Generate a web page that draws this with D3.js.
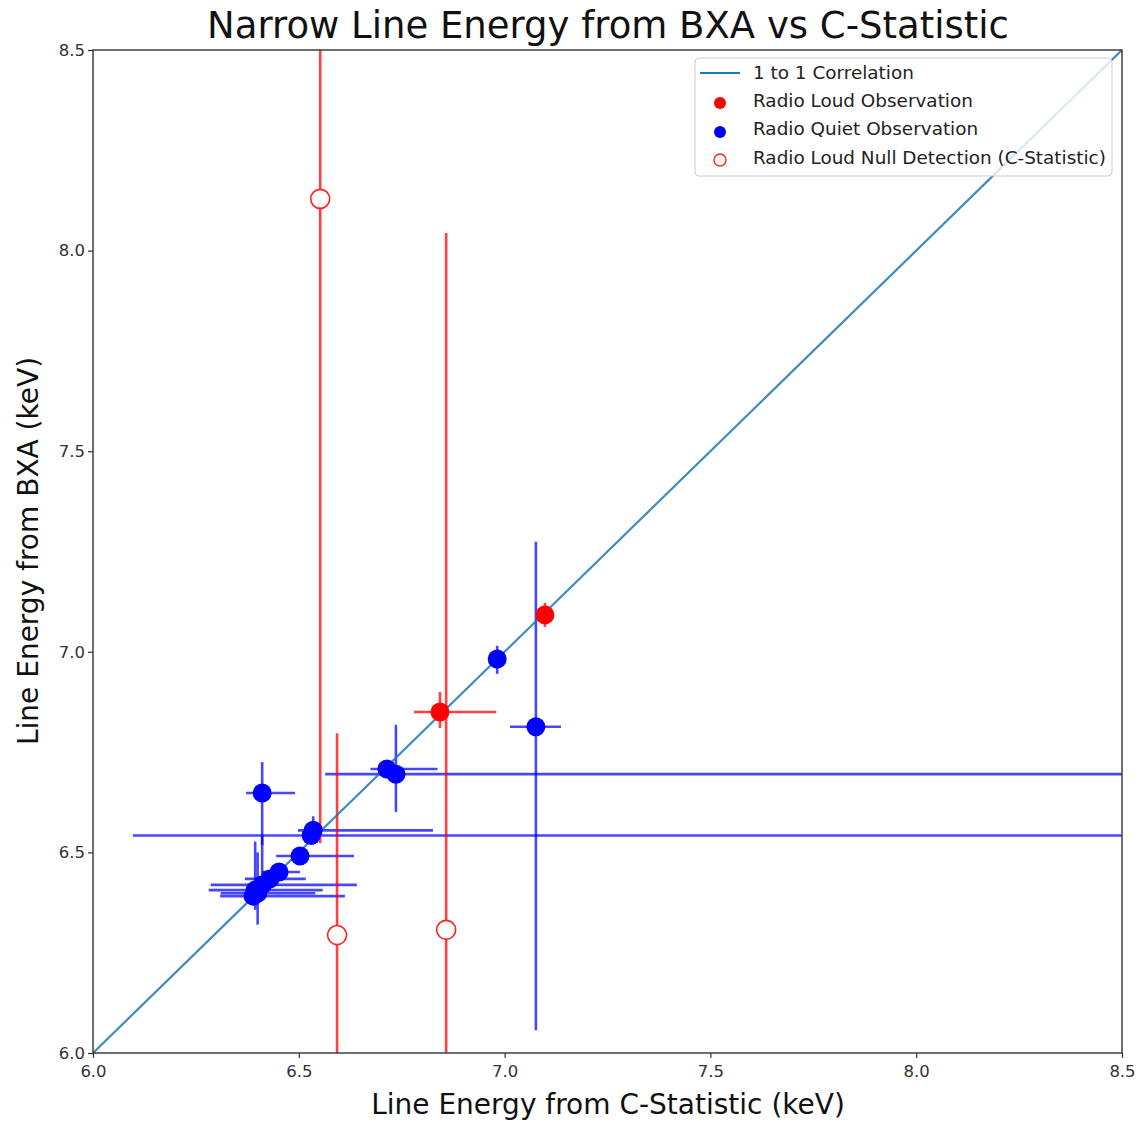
<!DOCTYPE html>
<html>
<head>
<meta charset="utf-8">
<script src="https://cdn.jsdelivr.net/npm/d3@7"></script>
<style>
  body { margin: 0; background: #fff; }
  text { font-family: "DejaVu Sans", sans-serif; }
</style>
</head>
<body>
<svg id="chart" width="1148" height="1122"></svg>
<script>
// ---- data ----
const titleText = "Narrow Line Energy from BXA vs C-Statistic";
const xLabel = "Line Energy from C-Statistic (keV)";
const yLabel = "Line Energy from BXA (keV)";
const xTicks = [6.0, 6.5, 7.0, 7.5, 8.0, 8.5];
const yTicks = [6.0, 6.5, 7.0, 7.5, 8.0, 8.5];
const legendLabels = ["1 to 1 Correlation", "Radio Loud Observation", "Radio Quiet Observation", "Radio Loud Null Detection (C-Statistic)"];

// Radio loud detections: x, y, xLow, xHigh, yLow, yHigh
const loudX    = [7.098, 6.843];
const loudY    = [7.092, 6.850];
const loudXLo  = [7.090, 6.780];
const loudXHi  = [7.106, 6.980];
const loudYLo  = [7.062, 6.810];
const loudYHi  = [7.122, 6.900];

// Radio loud null detections
const nullX    = [6.552, 6.593, 6.858];
const nullY    = [8.129, 6.294, 6.307];
const nullYLo  = [6.523, 5.900, 5.900];
const nullYHi  = [8.900, 6.797, 8.044];

// Radio quiet detections
const quietX   = [6.982, 7.076, 6.714, 6.736, 6.411, 6.535, 6.530, 6.503, 6.452, 6.430, 6.411, 6.394, 6.389, 6.400];
const quietY   = [6.982, 6.813, 6.708, 6.695, 6.648, 6.555, 6.542, 6.491, 6.451, 6.434, 6.419, 6.406, 6.391, 6.398];
const quietXLo = [6.975, 7.013, 6.674, 6.564, 6.372, 6.498, 6.097, 6.445, 6.411, 6.369, 6.286, 6.281, 6.309, 6.310];
const quietXHi = [6.989, 7.137, 6.837, 8.900, 6.491, 6.826, 8.900, 6.634, 6.503, 6.517, 6.641, 6.558, 6.612, 6.540];
const quietYLo = [6.945, 6.057, 6.690, 6.601, 6.518, 6.520, 6.540, 6.480, 6.440, 6.425, 6.410, 6.357, 6.380, 6.320];
const quietYHi = [7.015, 7.274, 6.720, 6.818, 6.725, 6.590, 6.545, 6.500, 6.460, 6.445, 6.540, 6.527, 6.400, 6.500];

// ---- layout ----
const svg = d3.select("#chart");
const mLeft = 93, mRight = 1122, mTop = 50, mBottom = 1053;
const x = d3.scaleLinear().domain([6.0, 8.5]).range([mLeft, mRight]);
const y = d3.scaleLinear().domain([6.0, 8.5]).range([mBottom, mTop]);

svg.append("defs").append("clipPath").attr("id", "plotclip")
  .append("rect").attr("x", mLeft).attr("y", mTop).attr("width", mRight - mLeft).attr("height", mBottom - mTop);

const plot = svg.append("g").attr("clip-path", "url(#plotclip)");

const errBlue = "rgba(0,0,255,0.72)";
const errRed = "rgba(255,0,0,0.75)";
const ew = 2.6;

function errBars(xs, ys, xlo, xhi, ylo, yhi, color) {
  xs.forEach((d, i) => {
    if (xlo && xhi && (xhi[i] - xlo[i]) > 0.02) {
      plot.append("line").attr("x1", x(xlo[i])).attr("x2", x(xhi[i]))
        .attr("y1", y(ys[i])).attr("y2", y(ys[i]))
        .attr("stroke", color).attr("stroke-width", ew);
    }
    if (ylo && yhi) {
      plot.append("line").attr("x1", x(d)).attr("x2", x(d))
        .attr("y1", y(ylo[i])).attr("y2", y(yhi[i]))
        .attr("stroke", color).attr("stroke-width", ew);
    }
  });
}

// error bars
errBars(quietX, quietY, quietXLo, quietXHi, quietYLo, quietYHi, errBlue);
errBars(loudX, loudY, loudXLo, loudXHi, loudYLo, loudYHi, errRed);
errBars(nullX, nullY, null, null, nullYLo, nullYHi, errRed);

// markers
const r = 9.5;
svg.append("g").selectAll("circle").data(quietX).join("circle")
  .attr("cx", d => x(d)).attr("cy", (d, i) => y(quietY[i])).attr("r", r).attr("fill", "#0000ff");
svg.append("g").selectAll("circle").data(loudX).join("circle")
  .attr("cx", d => x(d)).attr("cy", (d, i) => y(loudY[i])).attr("r", r).attr("fill", "#ff0000");
svg.append("g").selectAll("circle").data(nullX).join("circle")
  .attr("cx", d => x(d)).attr("cy", (d, i) => y(nullY[i])).attr("r", r)
  .attr("fill", "#fff").attr("stroke", "#ff2020").attr("stroke-width", 1.6);

// 1 to 1 line
plot.append("line").attr("x1", x(6.0)).attr("y1", y(6.0)).attr("x2", x(8.5)).attr("y2", y(8.5))
  .attr("stroke", "#1f77b4").attr("stroke-width", 2.2).attr("opacity", 0.85);

// axes
const xAxis = d3.axisBottom(x).tickValues(xTicks).tickFormat(d3.format(".1f")).tickSizeOuter(0).tickSize(5);
const yAxis = d3.axisLeft(y).tickValues(yTicks).tickFormat(d3.format(".1f")).tickSizeOuter(0).tickSize(5);
const gx = svg.append("g").attr("transform", `translate(0,${mBottom})`).call(xAxis);
const gy = svg.append("g").attr("transform", `translate(${mLeft},0)`).call(yAxis);
[gx, gy].forEach(g => {
  g.select(".domain").remove();
  g.selectAll("line").attr("stroke", "#333").attr("stroke-width", 1.2);
  g.selectAll("text").attr("font-size", 16.5).attr("fill", "#333").attr("font-family", "DejaVu Sans");
});
gx.selectAll("text").attr("dy", "0.95em");

// frame
svg.append("rect").attr("x", mLeft).attr("y", mTop).attr("width", mRight - mLeft).attr("height", mBottom - mTop)
  .attr("fill", "none").attr("stroke", "#333").attr("stroke-width", 1.4);

// labels
svg.append("text").attr("x", 608).attr("y", 38).attr("text-anchor", "middle")
  .attr("font-size", 37).attr("fill", "#111").text(titleText);
svg.append("text").attr("x", 608).attr("y", 1114).attr("text-anchor", "middle")
  .attr("font-size", 28).attr("fill", "#111").text(xLabel);
svg.append("text").attr("transform", `translate(38,551) rotate(-90)`).attr("text-anchor", "middle")
  .attr("font-size", 28).attr("fill", "#111").text(yLabel);

// legend
const lg = svg.append("g");
lg.append("rect").attr("x", 695).attr("y", 58).attr("width", 417).attr("height", 118).attr("rx", 4)
  .attr("fill", "rgba(255,255,255,0.8)").attr("stroke", "#ccc").attr("stroke-width", 1);
const rowY = [73, 101, 129, 158];
lg.append("line").attr("x1", 700).attr("x2", 740).attr("y1", rowY[0]).attr("y2", rowY[0])
  .attr("stroke", "#1f77b4").attr("stroke-width", 2.2);
lg.append("circle").attr("cx", 720).attr("cy", rowY[1] + 2).attr("r", 6).attr("fill", "#ff0000");
lg.append("circle").attr("cx", 720).attr("cy", rowY[2] + 3).attr("r", 6).attr("fill", "#0000ff");
lg.append("circle").attr("cx", 720).attr("cy", rowY[3] + 2).attr("r", 6).attr("fill", "#fff").attr("stroke", "#ff2020").attr("stroke-width", 1.4);
lg.selectAll("text.leg").data(legendLabels).join("text").attr("class", "leg")
  .attr("x", 753).attr("y", (d, i) => rowY[i]).attr("dy", "0.35em")
  .attr("font-size", 18.4).attr("fill", "#222").text(d => d);
</script>
</body>
</html>
